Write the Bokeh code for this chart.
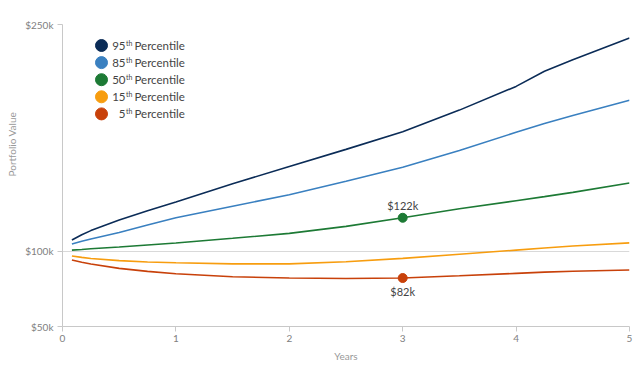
from bokeh.plotting import figure
from bokeh.models import Range1d, FixedTicker, PrintfTickFormatter, Title
from bokeh.core.properties import value
from bokeh.embed import file_html
from bokeh.resources import INLINE

# ---- data ----
years = [0.083, 0.17, 0.25, 0.5, 0.75, 1, 1.5, 2, 2.5, 3, 3.5, 4, 4.25, 4.5, 5]
p95 = [107.3, 110.8, 113.5, 120.5, 126.7, 132.5, 144.5, 156.0, 167.3, 179.0, 193.3, 209.0, 219.0, 226.6, 241.0]
p85 = [104.6, 106.5, 108.0, 112.3, 117.2, 122.0, 129.6, 137.3, 146.2, 155.4, 166.5, 178.6, 184.5, 189.8, 199.8]
p50 = [100.6, 101.0, 101.5, 102.6, 104.0, 105.3, 108.4, 111.7, 116.3, 122.0, 128.0, 133.3, 136.0, 138.8, 145.0]
p15 = [96.7, 95.8, 95.0, 93.6, 92.7, 92.2, 91.5, 91.5, 92.9, 95.1, 97.8, 100.6, 102.0, 103.3, 105.4]
p5 = [94.0, 92.6, 91.4, 88.5, 86.5, 84.9, 82.9, 82.1, 81.8, 82.1, 83.6, 85.2, 86.0, 86.6, 87.4]

pct_numbers = ["95", "85", "50", "15", "5"]
pct_suffix = ["th", "th", "th", "th", "th"]
pct_word = "Percentile"
series = [p95, p85, p50, p15, p5]
colors = ["#0b2c57", "#3a80c0", "#1d7a35", "#f79d0f", "#c8410a"]

x_ticks = [0, 1, 2, 3, 4, 5]
y_ticks = [50, 100, 250]
grid_ticks = [100]
highlight_year = 3
highlight_series = [2, 4]  # 50th and 5th

FONT = "Lato"

p = figure(frame_width=567, frame_height=302,
           x_range=Range1d(0, 5), y_range=Range1d(50, 250),
           output_backend="svg", toolbar_location=None,
           min_border_left=62, min_border_right=5,
           min_border_top=24, min_border_bottom=40)
p.outline_line_color = None
p.background_fill_color = "white"
p.border_fill_color = "white"
p.extra_x_ranges = {"px": Range1d(0, 567)}
p.extra_y_ranges = {"px": Range1d(0, 302)}

# axes
for ax in (p.xaxis[0], p.yaxis[0]):
    ax.axis_line_color = "#c8c8c8"
    ax.major_tick_line_color = "#c8c8c8"
    ax.minor_tick_line_color = None
    ax.major_tick_in = 0
    ax.major_tick_out = 5
    ax.major_label_text_font = FONT
    ax.major_label_text_font_size = "10px"
    ax.major_label_text_color = "#808080"

p.xaxis.ticker = FixedTicker(ticks=x_ticks)
p.xaxis.major_label_standoff = 3
p.xaxis.axis_label = "Years"
p.xaxis.axis_label_text_font = FONT
p.xaxis.axis_label_text_font_size = "10px"
p.xaxis.axis_label_text_font_style = "normal"
p.xaxis.axis_label_text_color = "#999999"
p.xaxis.axis_label_standoff = 5

p.yaxis.ticker = FixedTicker(ticks=y_ticks)
p.yaxis.formatter = PrintfTickFormatter(format="$%dk")
p.yaxis.major_label_standoff = 4

p.xgrid.visible = False
p.ygrid.ticker = FixedTicker(ticks=grid_ticks)
p.ygrid.grid_line_color = "#d9d9d9"
p.ygrid.grid_line_width = 1

# lines
for vals, c in zip(series, colors):
    p.line(years, vals, line_color=c, line_width=1.6)

# highlighted points with value labels
i3 = years.index(highlight_year)
for k, si in enumerate(highlight_series):
    v = series[si][i3]
    p.scatter([highlight_year], [v], size=9, fill_color=colors[si], line_color=colors[si], marker="circle")
    off = -12 if k == 0 else 13
    p.text([highlight_year], [v], text=[f"${round(v)}k"], text_align="center", text_baseline="middle",
           y_offset=off, text_font=value(FONT), text_font_size="11px", text_color="#444444")

# legend (custom, pixel coordinate range inside frame)
row_y = [281 - 17.1 * i for i in range(len(pct_numbers))]
p.scatter([39] * 5, row_y, size=12, fill_color=colors, line_color=colors, marker="circle",
          x_range_name="px", y_range_name="px")
p.text([63] * 5, row_y, text=pct_numbers, text_align="right", text_baseline="middle",
       text_font=value(FONT), text_font_size="11.5px", text_color="#444444",
       x_range_name="px", y_range_name="px")
p.text([63.5] * 5, row_y, text=pct_suffix, text_align="left", text_baseline="middle", y_offset=-3,
       text_font=value(FONT), text_font_size="7px", text_color="#444444",
       x_range_name="px", y_range_name="px")
p.text([72] * 5, row_y, text=[pct_word] * 5, text_align="left", text_baseline="middle",
       text_font=value(FONT), text_font_size="11.5px", text_color="#444444",
       x_range_name="px", y_range_name="px")

# rotated y-axis title (left side title, shifted up)
ytitle = Title(text="Portfolio Value", align="left", vertical_align="top", offset=150, standoff=6,
               text_font=FONT, text_font_size="10px", text_font_style="normal",
               text_color="#999999")
p.add_layout(ytitle, "left")

open("out.html", "w").write(file_html(p, INLINE))
